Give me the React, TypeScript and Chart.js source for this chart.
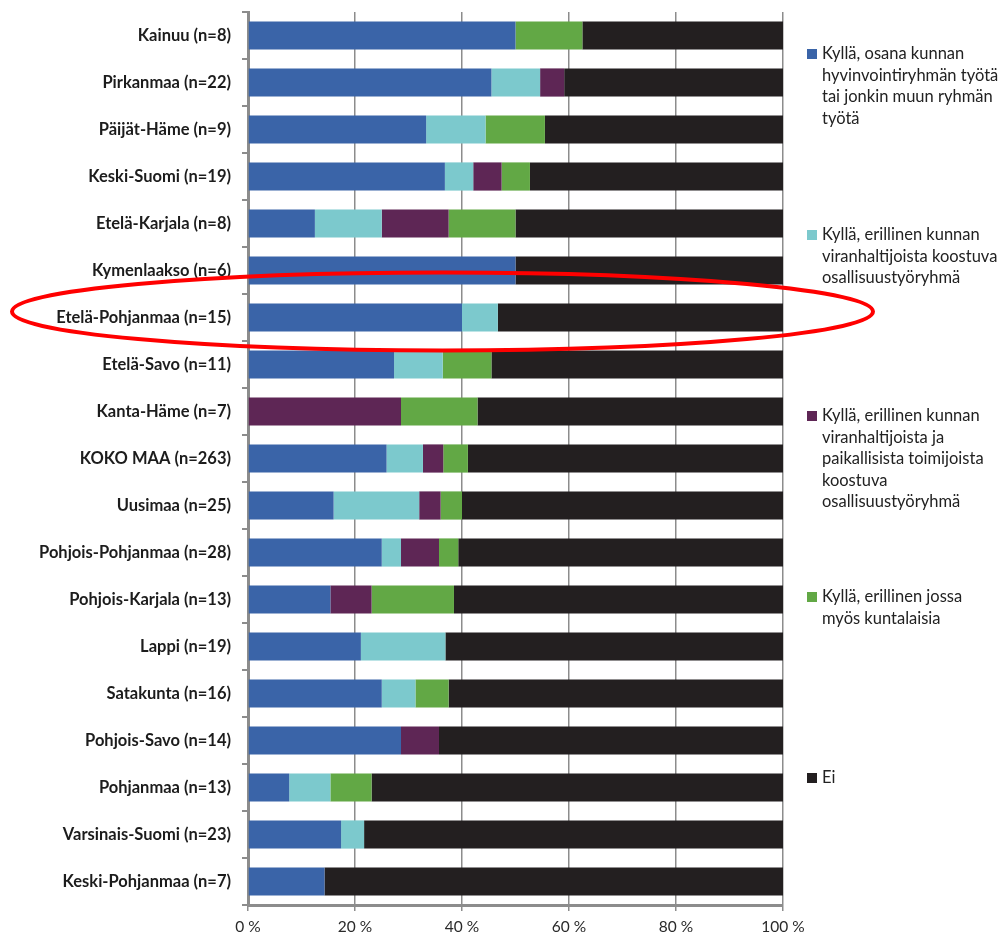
import React, { useEffect, useRef } from "react";
import { Chart, registerables } from "chart.js";

Chart.register(...registerables);

const categories = [
  "Kainuu (n=8)",
  "Pirkanmaa (n=22)",
  "Päijät-Häme (n=9)",
  "Keski-Suomi (n=19)",
  "Etelä-Karjala (n=8)",
  "Kymenlaakso (n=6)",
  "Etelä-Pohjanmaa (n=15)",
  "Etelä-Savo (n=11)",
  "Kanta-Häme (n=7)",
  "KOKO MAA (n=263)",
  "Uusimaa (n=25)",
  "Pohjois-Pohjanmaa (n=28)",
  "Pohjois-Karjala (n=13)",
  "Lappi (n=19)",
  "Satakunta (n=16)",
  "Pohjois-Savo (n=14)",
  "Pohjanmaa (n=13)",
  "Varsinais-Suomi (n=23)",
  "Keski-Pohjanmaa (n=7)",
];

const seriesLabels = [
  "Kyllä, osana kunnan hyvinvointiryhmän työtä tai jonkin muun ryhmän työtä",
  "Kyllä, erillinen kunnan viranhaltijoista koostuva osallisuustyöryhmä",
  "Kyllä, erillinen kunnan viranhaltijoista ja paikallisista toimijoista koostuva osallisuustyöryhmä",
  "Kyllä, erillinen jossa myös kuntalaisia",
  "Ei",
];

const osanaRyhmaa = [50, 45.5, 33.3, 36.8, 12.5, 50, 40, 27.3, 0, 25.9, 16, 25, 15.4, 21.1, 25, 28.6, 7.7, 17.4, 14.3];
const viranhaltijat = [0, 9.1, 11.1, 5.3, 12.5, 0, 6.7, 9.1, 0, 6.8, 16, 3.6, 0, 15.8, 6.3, 0, 7.7, 4.3, 0];
const viranhaltijatJaToimijat = [0, 4.5, 0, 5.3, 12.5, 0, 0, 0, 28.6, 3.8, 4, 7.1, 7.7, 0, 0, 7.1, 0, 0, 0];
const kuntalaisia = [12.5, 0, 11.1, 5.3, 12.5, 0, 0, 9.1, 14.3, 4.6, 4, 3.6, 15.4, 0, 6.2, 0, 7.7, 0, 0];
const ei = [37.5, 40.9, 44.5, 47.3, 50, 50, 53.3, 54.5, 57.1, 58.9, 60, 60.7, 61.5, 63.1, 62.5, 64.3, 76.9, 78.3, 85.7];

const xTicks = [0, 20, 40, 60, 80, 100];
const highlightedCategory = "Etelä-Pohjanmaa (n=15)";

const colors = ["#3A64A8", "#7CC9CD", "#5E2655", "#62A845", "#231F20"];
const seriesValues = [osanaRyhmaa, viranhaltijat, viranhaltijatJaToimijat, kuntalaisia, ei];

const legendLines = [
  ["Kyllä, osana kunnan", "hyvinvointiryhmän työtä", "tai jonkin muun ryhmän", "työtä"],
  ["Kyllä, erillinen kunnan", "viranhaltijoista koostuva", "osallisuustyöryhmä"],
  ["Kyllä, erillinen kunnan", "viranhaltijoista ja", "paikallisista toimijoista", "koostuva", "osallisuustyöryhmä"],
  ["Kyllä, erillinen jossa", "myös kuntalaisia"],
  ["Ei"],
];

const FONT = "Lato, 'Open Sans', sans-serif";

const ellipsePlugin = {
  id: "highlightEllipse",
  afterDraw(chart: any) {
    const y = chart.scales.y;
    const idx = categories.indexOf(highlightedCategory);
    if (idx < 0) return;
    const cy = y.getPixelForValue(idx) - 6;
    const left = 12;
    const right = chart.chartArea.right + 90;
    const cx = (left + right) / 2;
    const rx = (right - left) / 2;
    const ry = 39;
    const ctx = chart.ctx;
    ctx.save();
    ctx.beginPath();
    ctx.ellipse(cx, cy, rx, ry, 0, 0, Math.PI * 2);
    ctx.strokeStyle = "#FF0000";
    ctx.lineWidth = 4;
    ctx.stroke();
    ctx.restore();
  },
};

export default function App() {
  const ref = useRef<HTMLCanvasElement | null>(null);

  useEffect(() => {
    if (!ref.current) return;
    const chart = new Chart(ref.current, {
      type: "bar",
      data: {
        labels: categories,
        datasets: seriesValues.map((vals, i) => ({
          label: seriesLabels[i],
          data: vals,
          backgroundColor: colors[i],
          borderWidth: 0,
          barPercentage: 0.6,
          categoryPercentage: 1,
        })),
      },
      options: {
        indexAxis: "y",
        responsive: false,
        animation: false,
        layout: { padding: { left: 0, right: 223, top: 12, bottom: 0 } },
        plugins: {
          legend: { display: false },
          tooltip: { enabled: false },
        },
        scales: {
          x: {
            stacked: true,
            min: 0,
            max: 100,
            afterBuildTicks: (scale: any) => {
              scale.ticks = xTicks.map((v) => ({ value: v }));
            },
            afterFit: (scale: any) => {
              scale.height = 33;
            },
            ticks: {
              callback: (v: any) => `${v} %`,
              color: "#2a2a2a",
              font: { family: FONT, size: 15.5 },
              padding: 7,
              maxRotation: 0,
            },
            grid: {
              color: "#8C8C8C",
              lineWidth: 1.5,
              tickLength: 6,
            },
            border: { color: "#8C8C8C", width: 3 },
          },
          y: {
            stacked: true,
            afterFit: (scale: any) => {
              scale.width = 248;
              scale.paddingTop = 0;
              scale.paddingBottom = 0;
            },
            ticks: {
              color: "#1c1c1c",
              font: { family: FONT, size: 16.5, weight: "bold" },
              padding: 11,
            },
            grid: {
              drawOnChartArea: false,
              color: "#8C8C8C",
              lineWidth: 2,
              tickLength: 6,
              offset: true,
            },
            border: { color: "#8C8C8C", width: 3 },
          },
        },
      },
      plugins: [ellipsePlugin],
    } as any);
    return () => chart.destroy();
  }, []);

  return (
    <div style={{ position: "absolute", left: 0, top: 0, width: 1006, height: 938, background: "#fff" }}>
      <canvas ref={ref} width={1006} height={938} style={{ position: "absolute", left: 0, top: 0 }} />
      {legendLines.map((lines, i) => (
        <div
          key={i}
          style={{
            position: "absolute",
            left: 807,
            top: 43 + 181 * i,
            display: "flex",
            alignItems: "flex-start",
            fontFamily: FONT,
            fontSize: 16.5,
            lineHeight: "21.5px",
            color: "#222",
          }}
        >
          <span
            style={{
              display: "inline-block",
              width: 10,
              height: 10,
              background: colors[i],
              marginTop: 6,
              marginRight: 5,
              flex: "none",
            }}
          />
          <span>
            {lines.map((l, j) => (
              <div key={j} style={{ whiteSpace: "nowrap" }}>{l}</div>
            ))}
          </span>
        </div>
      ))}
    </div>
  );
}
